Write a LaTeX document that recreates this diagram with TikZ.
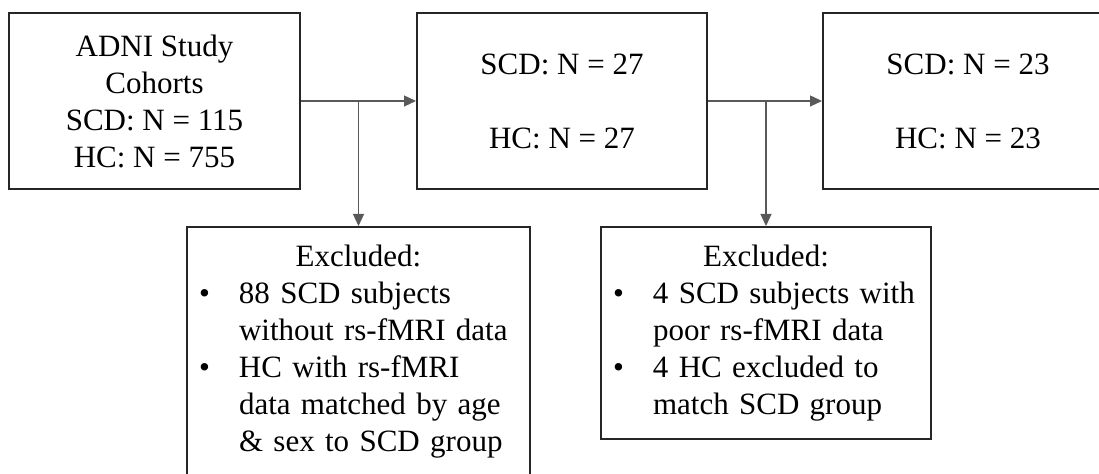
\documentclass[tikz,border=0pt]{standalone}
\usepackage{fontspec}
\setmainfont{Liberation Serif}
\usetikzlibrary{arrows.meta}

\newcommand{\exbullet}{\makebox[20pt][l]{\textbullet}}
\newcommand{\exindent}{\hspace*{20pt}}

\tikzset{
  stagebox/.style={draw=black!85, line width=1pt, minimum height=88pt,
    align=center, font=\fontsize{15.5}{18.5}\selectfont, inner sep=0pt},
  exclbox/.style={draw=black!85, line width=1pt, align=left,
    font=\fontsize{15.5}{18.5}\selectfont, inner xsep=6pt, inner ysep=0pt},
  flow/.style={draw=black!65, line width=0.6pt, -{Triangle[length=6pt,width=5.5pt]}}
}

\begin{document}
\begin{tikzpicture}[x=0.5pt, y=-0.5pt]

  \clip (0,0) rectangle (1099,474);
  \useasboundingbox (0,0) rectangle (1099,474);

  \node[stagebox, minimum width=145.5pt] (cohort) at (154.5,101)
    {ADNI Study\\Cohorts\\SCD: N = 115\\HC: N = 755};
  \node[stagebox, minimum width=145pt] (match) at (562,101)
    {SCD: N = 27\\[18.5pt]HC: N = 27};
  \node[stagebox, minimum width=145pt] (final) at (968,101)
    {SCD: N = 23\\[18.5pt]HC: N = 23};

  \node[exclbox, text width=159.5pt, minimum height=125pt] (exclA) at (358.5,352)
    {\hfill Excluded:\hfill\null\\
     \exbullet 88 SCD subjects\\
     \exindent without rs-fMRI data\\
     \exbullet HC with rs-fMRI\\
     \exindent data matched by age\\
     \exindent \& sex to SCD group};
  \node[exclbox, text width=153pt, minimum height=106pt] (exclB) at (766,333)
    {\hfill Excluded:\hfill\null\\
     \exbullet 4 SCD subjects with\\
     \exindent poor rs-fMRI data\\
     \exbullet 4 HC excluded to\\
     \exindent match SCD group};

  \coordinate (splitA) at (exclA.north |- cohort.east);
  \coordinate (splitB) at (exclB.north |- match.east);

  \draw[flow] (cohort.east) -- (match.west);
  \draw[flow] (splitA) -- (exclA.north);
  \draw[flow] (match.east) -- (final.west);
  \draw[flow] (splitB) -- (exclB.north);

\end{tikzpicture}
\end{document}
